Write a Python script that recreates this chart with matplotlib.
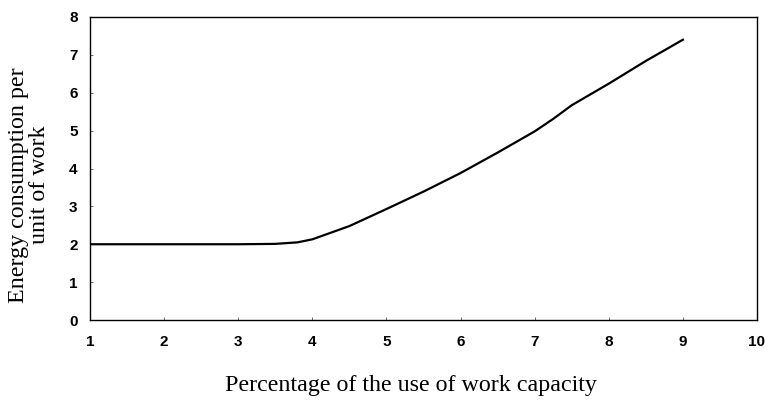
import matplotlib.pyplot as plt
import numpy as np

# values
capacity = [1, 2, 3, 3.5, 3.8, 4, 4.5, 5, 5.5, 6, 6.5, 7, 7.25, 7.5, 8, 8.5, 9]
energy = [2.0, 2.0, 2.0, 2.01, 2.05, 2.13, 2.48, 2.93, 3.39, 3.88, 4.42, 4.98, 5.31, 5.67, 6.24, 6.84, 7.4]

xticks = list(range(1, 11))
yticks = list(range(0, 9))

fig = plt.figure(figsize=(7.65, 4.08), dpi=100)
ax = fig.add_axes([90 / 765, 88 / 408, 667 / 765, 303 / 408])

ax.plot(capacity, energy, color='black', lw=1.6, solid_joinstyle='round')

ax.set_xlim(1, 10)
ax.set_ylim(0, 8)
ax.set_xticks(xticks)
ax.set_yticks(yticks)

tick_font = dict(family='Liberation Sans', weight='bold', size=11)
ax.set_xticklabels([str(v) for v in xticks], fontdict=tick_font)
ax.set_yticklabels([str(v) for v in yticks], fontdict=tick_font)
ax.tick_params(direction='in', length=2.5, width=0.6, color='#555555')
ax.tick_params(axis='x', pad=11)
ax.tick_params(axis='y', pad=9)

for s in ax.spines.values():
    s.set_linewidth(1.0)
    s.set_color('black')

label_font = dict(family='Liberation Serif', size=17.3)
fig.text(411 / 765, 1 - 386 / 408, 'Percentage of the use of work capacity',
         ha='center', va='center', **label_font)
fig.text(29 / 765, 1 - 185 / 408, 'Energy consumption per\nunit of work',
         ha='center', va='center', rotation=90, linespacing=0.95, **label_font)

fig.savefig('out.png', dpi=100)
